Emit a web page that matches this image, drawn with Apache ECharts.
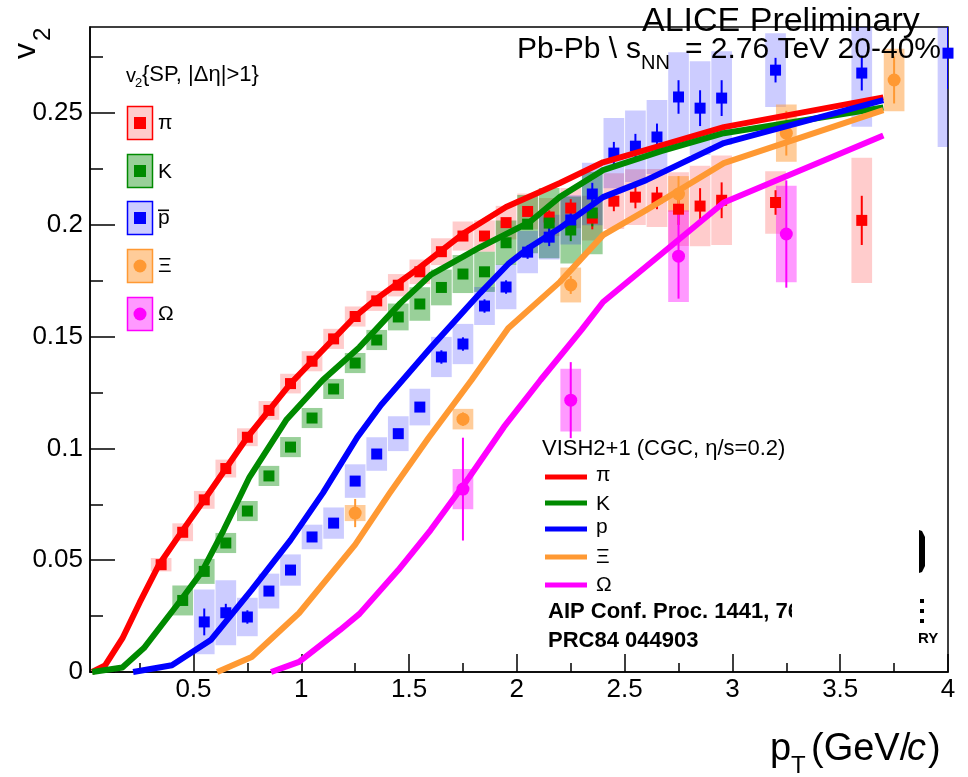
<!DOCTYPE html>
<html><head><meta charset="utf-8">
<script src="https://cdn.jsdelivr.net/npm/echarts@6/dist/echarts.min.js"></script>
<style>html,body{margin:0;padding:0;background:#fff}#c{width:968px;height:777px}</style>
</head><body><div id="c"></div>
<script>
// ---------------- data ----------------
const xTickLabels = [0.5, 1, 1.5, 2, 2.5, 3, 3.5, 4];
const xMinorTicks = [0.25, 0.75, 1.25, 1.75, 2.25, 2.75, 3.25, 3.75];
const yTickLabels = [0, 0.05, 0.1, 0.15, 0.2, 0.25];
const yMinorTicks = [0.025, 0.075, 0.125, 0.175, 0.225, 0.275];

// pi
const piX = [0.35,0.45,0.55,0.65,0.75,0.85,0.95,1.05,1.15,1.25,1.35,1.45,1.55,1.65,1.75,1.85,1.95,2.05,2.15,2.25,2.35,2.45,2.55,2.65,2.75,2.85,2.95,3.2,3.6];
const piY = [0.048,0.0625,0.077,0.091,0.105,0.117,0.129,0.139,0.149,0.159,0.166,0.173,0.179,0.188,0.195,0.195,0.201,0.206,0.2035,0.2075,0.203,0.2106,0.2124,0.212,0.207,0.2084,0.211,0.210,0.202];
const piStat = [0.001,0.001,0.001,0.001,0.001,0.001,0.001,0.001,0.001,0.001,0.001,0.001,0.001,0.001,0.0015,0.0015,0.0015,0.002,0.003,0.004,0.005,0.0045,0.005,0.005,0.007,0.008,0.008,0.0055,0.011];
const piSys = [0.003,0.004,0.004,0.004,0.004,0.0042,0.0044,0.0045,0.0045,0.0045,0.0045,0.005,0.0055,0.006,0.0065,0.007,0.0075,0.008,0.0085,0.009,0.01,0.0125,0.0125,0.013,0.0165,0.018,0.02,0.014,0.028];

// K
const kX = [0.45,0.55,0.65,0.75,0.85,0.95,1.05,1.15,1.25,1.35,1.45,1.55,1.65,1.75,1.85,1.95,2.05,2.15,2.25,2.35];
const kY = [0.032,0.045,0.0577,0.072,0.0877,0.1006,0.1136,0.1266,0.1382,0.1485,0.1588,0.1646,0.172,0.178,0.179,0.192,0.2003,0.2008,0.1977,0.2053];
const kStat = [0.001,0.001,0.001,0.001,0.001,0.001,0.001,0.001,0.001,0.001,0.001,0.001,0.0015,0.0015,0.0015,0.002,0.002,0.004,0.005,0.006];
const kSys = [0.0067,0.0056,0.0045,0.0045,0.0045,0.0045,0.0045,0.0045,0.0045,0.0045,0.006,0.0075,0.008,0.0085,0.009,0.01,0.013,0.0157,0.015,0.0185];

// anti-proton
const pX = [0.55,0.65,0.75,0.85,0.95,1.05,1.15,1.25,1.35,1.45,1.55,1.65,1.75,1.85,1.95,2.05,2.15,2.25,2.35,2.45,2.55,2.65,2.75,2.85,2.95,3.2,3.6,4.0];
const pY = [0.0224,0.0265,0.0246,0.0362,0.0456,0.0604,0.0666,0.0854,0.0975,0.1066,0.1185,0.1409,0.1467,0.1637,0.1722,0.1878,0.1945,0.2022,0.2138,0.2321,0.2352,0.2393,0.2572,0.2522,0.2567,0.2692,0.2679,0.2768];
const pStat = [0.006,0.004,0.003,0.002,0.002,0.002,0.002,0.002,0.002,0.002,0.002,0.003,0.003,0.003,0.003,0.003,0.004,0.004,0.005,0.005,0.0055,0.006,0.0075,0.008,0.008,0.0055,0.0078,0.016];
const pSys = [0.0145,0.0145,0.0086,0.0078,0.007,0.0055,0.007,0.0075,0.0075,0.0078,0.0082,0.009,0.009,0.0085,0.01,0.0095,0.01,0.011,0.014,0.0157,0.016,0.0165,0.020,0.021,0.021,0.0165,0.024,0.042];

// Xi
const xiX = [1.25,1.75,2.25,2.75,3.25,3.75];
const xiY = [0.0711,0.1131,0.1731,0.2138,0.241,0.2648];
const xiStat = [0.0063,0.003,0.004,0.008,0.010,0.0105];
const xiSys = [0.0036,0.0046,0.0078,0.008,0.0128,0.014];

// Omega
const omX = [1.75,2.25,2.75,3.25];
const omY = [0.0818,0.1216,0.186,0.1959];
const omStat = [0.023,0.017,0.019,0.024];
const omSys = [0.009,0.014,0.0205,0.0216];

// VISH2+1 model curves
const mPiX = [0.03,0.09,0.17,0.25,0.34,0.44,0.55,0.65,0.75,0.85,0.95,1.05,1.15,1.25,1.35,1.45,1.55,1.75,1.95,2.2,2.4,2.6,2.96,3.7];
const mPiY = [0,0.003,0.015,0.031,0.048,0.062,0.077,0.091,0.105,0.117,0.129,0.139,0.149,0.159,0.167,0.174,0.181,0.196,0.208,0.2187,0.228,0.2335,0.2437,0.257];
const mKX = [0.03,0.17,0.27,0.44,0.54,0.64,0.76,0.93,1.10,1.27,1.46,1.6,1.83,2.06,2.2,2.4,2.67,2.96,3.7];
const mKY = [0,0.002,0.0107,0.032,0.045,0.0635,0.0872,0.1127,0.1306,0.1453,0.165,0.1776,0.190,0.2013,0.2125,0.2245,0.233,0.241,0.2525];
const mPX = [0.22,0.40,0.58,0.77,0.95,1.10,1.26,1.37,1.6,1.83,1.96,2.06,2.2,2.4,2.6,2.96,3.7];
const mPY = [0,0.003,0.0143,0.0367,0.059,0.080,0.105,0.1194,0.145,0.1695,0.1825,0.190,0.1986,0.2124,0.220,0.2366,0.2558];
const mXiX = [0.61,0.77,0.99,1.25,1.41,1.59,1.79,1.96,2.2,2.4,2.6,2.96,3.7];
const mXiY = [0,0.0067,0.0264,0.057,0.080,0.1047,0.1306,0.1538,0.1745,0.1954,0.2066,0.2276,0.2513];
const mOmX = [0.86,0.99,1.18,1.27,1.45,1.6,1.78,1.94,2.11,2.3,2.4,2.96,3.7];
const mOmY = [0,0.0045,0.0188,0.026,0.0456,0.0635,0.0872,0.1096,0.1306,0.153,0.1655,0.210,0.240];

// ---------------- styles ----------------
const FONT = 'Liberation Sans';
const C = { pi:'#ff0000', k:'#008a00', p:'#0000ff', xi:'#ff9933', om:'#ff00ff' };
const BOX = { pi:'rgba(255,0,0,0.2)', k:'rgba(0,138,0,0.4)', p:'rgba(0,0,255,0.2)', xi:'rgba(255,153,51,0.5)', om:'rgba(255,0,255,0.4)' };
const BW = 0.048;

function boxSeries(xs, ys, es, fill) {
  return { type:'custom', clip:true, z:1, silent:true,
    data: xs.map((x,i)=>[x, ys[i], es[i]]),
    renderItem:(p, api)=>{
      const x=api.value(0), y=api.value(1), e=api.value(2);
      const a=api.coord([x-BW, y+e]), b=api.coord([x+BW, y-e]);
      return {type:'rect', shape:{x:a[0], y:a[1], width:b[0]-a[0], height:b[1]-a[1]}, style:{fill}};
    } };
}
function errSeries(xs, ys, es, color) {
  return { type:'custom', clip:true, z:2, silent:true,
    data: xs.map((x,i)=>[x, ys[i], es[i]]),
    renderItem:(p, api)=>{
      const x=api.value(0), y=api.value(1), e=api.value(2);
      const a=api.coord([x, y+e]), b=api.coord([x, y-e]);
      return {type:'line', shape:{x1:a[0], y1:a[1], x2:b[0], y2:b[1]}, style:{stroke:color, lineWidth:2}};
    } };
}
function markSeries(xs, ys, color, sym, size) {
  return { type:'scatter', z:3, silent:true, symbol:sym, symbolSize:size,
    itemStyle:{color, opacity:1}, data: xs.map((x,i)=>[x, ys[i]]) };
}
function modelSeries(xs, ys, color) {
  return { type:'line', z:4, silent:true, showSymbol:false, symbol:'none',
    lineStyle:{color, width:6, join:'round', cap:'butt'}, data: xs.map((x,i)=>[x, ys[i]]) };
}

function T(text, x, base, size, o) {
  o = o || {};
  return { type:'text', x:x, y: base - 0.3465*size, z:100, silent:true,
    style:{ text, fontSize:size, fontFamily:FONT, fontWeight:o.weight||'normal', fontStyle:o.style||'normal',
      fill:o.fill||'#000', textAlign:o.align||'left', align:o.align||'left', textVerticalAlign:'middle', verticalAlign:'middle' } };
}
function TR(text, bx, ystart, size) {
  return { type:'text', x: bx - 0.3465*size, y: ystart, rotation: Math.PI/2, z:100, silent:true,
    style:{ text, fontSize:size, fontFamily:FONT, fill:'#000', textAlign:'left', align:'left', textVerticalAlign:'middle', verticalAlign:'middle' } };
}

const graphics = [];
// y title v2
graphics.push(TR('v', 37, 59, 32));
graphics.push(TR('2', 52, 41, 24));
// x title
graphics.push(T('p', 770, 763, 38));
graphics.push(T('T', 791, 775, 24));
graphics.push(T('(GeV/', 811, 763, 38));
graphics.push(T('c', 907, 763, 38, {style:'italic'}));
graphics.push(T(')', 928, 763, 38));
// ALICE labels
graphics.push(T('ALICE Preliminary', 642, 33, 34));
graphics.push(T('Pb-Pb \\', 517, 60, 30));
graphics.push(T('s', 626, 60, 30));
graphics.push(T('NN', 641, 70, 20));
graphics.push(T('= 2.76 TeV 20-40%', 685, 60, 30));

// legend 1 (data)
graphics.push(T('v', 126, 83, 20));
graphics.push(T('2', 135, 88, 13));
graphics.push(T('{SP, |\u0394\u03b7|>1}', 142, 83, 22));
const leg1 = [
  {c:C.pi, f:BOX.pi, sym:'rect', lab:'\u03c0', cy:123, base:130},
  {c:C.k, f:BOX.k, sym:'rect', lab:'K', cy:171, base:179},
  {c:C.p, f:BOX.p, sym:'rect', lab:'p', cy:218, base:225},
  {c:C.xi, f:BOX.xi, sym:'circle', lab:'\u039e', cy:266, base:273},
  {c:C.om, f:BOX.om, sym:'circle', lab:'\u03a9', cy:314, base:321}
];
leg1.forEach(it=>{
  graphics.push({type:'rect', z:100, silent:true, shape:{x:127.5, y:it.cy-16.5, width:25, height:33}, style:{fill:it.f, stroke:it.c, lineWidth:1.5}});
  if (it.sym==='rect') graphics.push({type:'rect', z:101, silent:true, shape:{x:134, y:it.cy-6, width:12, height:12}, style:{fill:it.c}});
  else graphics.push({type:'circle', z:101, silent:true, shape:{cx:140, cy:it.cy, r:6.5}, style:{fill:it.c}});
  graphics.push(T(it.lab, 158, it.base, 21));
});
graphics.push({type:'rect', z:101, silent:true, shape:{x:158, y:209.5, width:11, height:1.6}, style:{fill:'#000'}});

// legend 2 (model)
graphics.push(T('VISH2+1 (CGC, \u03b7/s=0.2)', 542, 457, 22));
const leg2 = [
  {c:C.pi, lab:'\u03c0', ly:477, base:482},
  {c:C.k, lab:'K', ly:503, base:511},
  {c:C.p, lab:'p', ly:529, base:534},
  {c:C.xi, lab:'\u039e', ly:557, base:564},
  {c:C.om, lab:'\u03a9', ly:585, base:592}
];
leg2.forEach(it=>{
  graphics.push({type:'line', z:100, silent:true, shape:{x1:545, y1:it.ly, x2:587, y2:it.ly}, style:{stroke:it.c, lineWidth:5}});
  graphics.push(T(it.lab, 596, it.base, 21));
});
graphics.push(T('AIP Conf. Proc. 1441, 760', 548, 620, 22, {weight:'bold'}));
graphics.push({type:'rect', z:102, silent:true, shape:{x:792, y:598, width:110, height:28}, style:{fill:'#fff'}});
graphics.push(T('PRC84 044903', 548, 649, 22, {weight:'bold'}));

// partial logo remnants
graphics.push({type:'polygon', z:100, silent:true, shape:{points:[[919,530],[922,531],[925,537],[925,566],[922,572],[919,573]]}, style:{fill:'#000'}});
[599,609,619].forEach(yy=>graphics.push({type:'rect', z:100, silent:true, shape:{x:920, y:yy, width:4, height:4}, style:{fill:'#000'}}));
graphics.push(T('RY', 918, 644, 15, {weight:'bold'}));

const axLabel = {fontFamily:FONT, fontSize:26, color:'#000'};
const option = {
  animation:false,
  backgroundColor:'#fff',
  grid:{left:90, right:20, top:27, bottom:105, show:true, borderColor:'#000', borderWidth:1.5, backgroundColor:'transparent'},
  xAxis:[
    {type:'value', min:0.02, max:4, position:'bottom',
     axisLine:{show:true, onZero:false, lineStyle:{color:'#000', width:1.5}},
     axisTick:{show:true, inside:true, length:18, lineStyle:{color:'#000', width:1.5}, customValues:xTickLabels},
     axisLabel:Object.assign({show:true, margin:5, customValues:xTickLabels, showMinLabel:true, showMaxLabel:true, formatter:v=>String(v)}, axLabel),
     splitLine:{show:false}},
    {type:'value', min:0.02, max:4, position:'bottom',
     axisLine:{show:false}, axisLabel:{show:false}, splitLine:{show:false},
     axisTick:{show:true, inside:true, length:9, lineStyle:{color:'#000', width:1.5}, customValues:xMinorTicks}}
  ],
  yAxis:[
    {type:'value', min:0, max:0.2885, position:'left',
     axisLine:{show:true, onZero:false, lineStyle:{color:'#000', width:1.5}},
     axisTick:{show:true, inside:true, length:25, lineStyle:{color:'#000', width:1.5}, customValues:yTickLabels},
     axisLabel:Object.assign({show:true, margin:7, customValues:yTickLabels, showMinLabel:true, showMaxLabel:true, formatter:v=>String(v)}, axLabel),
     splitLine:{show:false}},
    {type:'value', min:0, max:0.2885, position:'left',
     axisLine:{show:false}, axisLabel:{show:false}, splitLine:{show:false},
     axisTick:{show:true, inside:true, length:13, lineStyle:{color:'#000', width:1.5}, customValues:yMinorTicks}}
  ],
  series:[
    boxSeries(piX, piY, piSys, BOX.pi),
    boxSeries(kX, kY, kSys, BOX.k),
    boxSeries(pX, pY, pSys, BOX.p),
    boxSeries(xiX, xiY, xiSys, BOX.xi),
    boxSeries(omX, omY, omSys, BOX.om),
    errSeries(piX, piY, piStat, C.pi),
    errSeries(kX, kY, kStat, C.k),
    errSeries(pX, pY, pStat, C.p),
    errSeries(xiX, xiY, xiStat, C.xi),
    errSeries(omX, omY, omStat, C.om),
    markSeries(piX, piY, C.pi, 'rect', 11),
    markSeries(kX, kY, C.k, 'rect', 11),
    markSeries(pX, pY, C.p, 'rect', 11),
    markSeries(xiX, xiY, C.xi, 'circle', 13),
    markSeries(omX, omY, C.om, 'circle', 13),
    modelSeries(mPiX, mPiY, C.pi),
    modelSeries(mKX, mKY, C.k),
    modelSeries(mPX, mPY, C.p),
    modelSeries(mXiX, mXiY, C.xi),
    modelSeries(mOmX, mOmY, C.om)
  ],
  graphic:{elements:graphics}
};
const chart = echarts.init(document.getElementById('c'), null, {renderer:'canvas'});
chart.setOption(option);
</script></body></html>
